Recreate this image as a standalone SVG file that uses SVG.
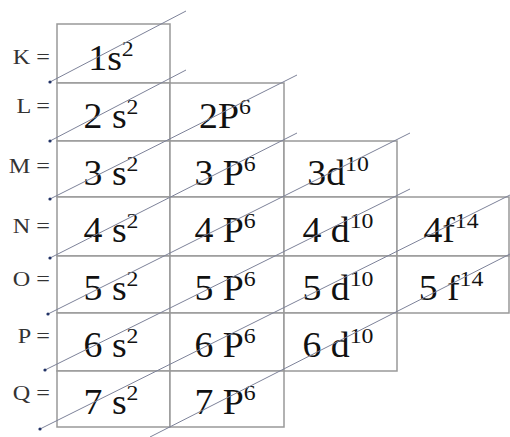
<svg xmlns="http://www.w3.org/2000/svg" width="510" height="437" viewBox="0 0 510 437">
<style>
.cell{fill:#fff;stroke:#999;stroke-width:1.5}
.t{font-family:"Liberation Serif","Times New Roman",serif;font-size:35px;fill:#111;text-anchor:middle}
.sup{font-size:22px}
.lab{font-family:"Liberation Serif","Times New Roman",serif;font-size:22px;fill:#333;text-anchor:end}
.diag{stroke:#7d8299;stroke-width:1;fill:none}
.dot{fill:#223366}
</style>
<rect width="510" height="437" fill="#fff"/>
<g id="labels">
<g id="label-K" transform="translate(50,64) scale(1.1,1)"><text class="lab">K =</text></g>
<g id="label-L" transform="translate(50,113) scale(1.1,1)"><text class="lab">L =</text></g>
<g id="label-M" transform="translate(50,173) scale(1.1,1)"><text class="lab">M =</text></g>
<g id="label-N" transform="translate(50,233) scale(1.1,1)"><text class="lab">N =</text></g>
<g id="label-O" transform="translate(50,286) scale(1.1,1)"><text class="lab">O =</text></g>
<g id="label-P" transform="translate(50,343) scale(1.1,1)"><text class="lab">P =</text></g>
<g id="label-Q" transform="translate(50,400) scale(1.1,1)"><text class="lab">Q =</text></g>
</g>
<g id="cells">
<g id="c1s"><rect class="cell" x="57" y="24" width="113" height="59"/><g transform="translate(111,70) scale(1.08,1)"><text class="t">1s<tspan class="sup" dy="-14">2</tspan></text></g></g>

<g id="c2s"><rect class="cell" x="57" y="83" width="113" height="58"/><g transform="translate(111,128) scale(1.08,1)"><text class="t">2 s<tspan class="sup" dy="-14">2</tspan></text></g></g>
<g id="c2p"><rect class="cell" x="170" y="83" width="114" height="58"/><g transform="translate(225,128) scale(1.08,1)"><text class="t">2P<tspan class="sup" dy="-14">6</tspan></text></g></g>

<g id="c3s"><rect class="cell" x="57" y="141" width="113" height="56"/><g transform="translate(111,185) scale(1.08,1)"><text class="t">3 s<tspan class="sup" dy="-14">2</tspan></text></g></g>
<g id="c3p"><rect class="cell" x="170" y="141" width="114" height="56"/><g transform="translate(225,185) scale(1.08,1)"><text class="t">3 P<tspan class="sup" dy="-14">6</tspan></text></g></g>
<g id="c3d"><rect class="cell" x="284" y="141" width="113" height="56"/><g transform="translate(338,185) scale(1.08,1)"><text class="t">3d<tspan class="sup" dy="-14">10</tspan></text></g></g>

<g id="c4s"><rect class="cell" x="57" y="197" width="113" height="59"/><g transform="translate(111,242) scale(1.08,1)"><text class="t">4 s<tspan class="sup" dy="-14">2</tspan></text></g></g>
<g id="c4p"><rect class="cell" x="170" y="197" width="114" height="59"/><g transform="translate(225,242) scale(1.08,1)"><text class="t">4 P<tspan class="sup" dy="-14">6</tspan></text></g></g>
<g id="c4d"><rect class="cell" x="284" y="197" width="113" height="59"/><g transform="translate(338,242) scale(1.08,1)"><text class="t">4 d<tspan class="sup" dy="-14">10</tspan></text></g></g>
<g id="c4f"><rect class="cell" x="397" y="197" width="112" height="59"/><g transform="translate(451,242) scale(1.08,1)"><text class="t">4f<tspan class="sup" dy="-14">14</tspan></text></g></g>

<g id="c5s"><rect class="cell" x="57" y="256" width="113" height="57"/><g transform="translate(111,300) scale(1.08,1)"><text class="t">5 s<tspan class="sup" dy="-14">2</tspan></text></g></g>
<g id="c5p"><rect class="cell" x="170" y="256" width="114" height="57"/><g transform="translate(225,300) scale(1.08,1)"><text class="t">5 P<tspan class="sup" dy="-14">6</tspan></text></g></g>
<g id="c5d"><rect class="cell" x="284" y="256" width="113" height="57"/><g transform="translate(338,300) scale(1.08,1)"><text class="t">5 d<tspan class="sup" dy="-14">10</tspan></text></g></g>
<g id="c5f"><rect class="cell" x="397" y="256" width="112" height="57"/><g transform="translate(451,300) scale(1.08,1)"><text class="t">5 f<tspan class="sup" dy="-14">14</tspan></text></g></g>

<g id="c6s"><rect class="cell" x="57" y="313" width="113" height="58"/><g transform="translate(111,357) scale(1.08,1)"><text class="t">6 s<tspan class="sup" dy="-14">2</tspan></text></g></g>
<g id="c6p"><rect class="cell" x="170" y="313" width="114" height="58"/><g transform="translate(225,357) scale(1.08,1)"><text class="t">6 P<tspan class="sup" dy="-14">6</tspan></text></g></g>
<g id="c6d"><rect class="cell" x="284" y="313" width="113" height="58"/><g transform="translate(338,357) scale(1.08,1)"><text class="t">6 d<tspan class="sup" dy="-14">10</tspan></text></g></g>

<g id="c7s"><rect class="cell" x="57" y="371" width="113" height="56"/><g transform="translate(111,414) scale(1.08,1)"><text class="t">7 s<tspan class="sup" dy="-14">2</tspan></text></g></g>
<g id="c7p"><rect class="cell" x="170" y="371" width="114" height="56"/><g transform="translate(225,414) scale(1.08,1)"><text class="t">7 P<tspan class="sup" dy="-14">6</tspan></text></g></g>
</g>
<g id="connectors">
<line class="diag" x1="50" y1="82" x2="186" y2="11"/>
<line class="diag" x1="50" y1="141" x2="186" y2="70"/>
<line class="diag" x1="50" y1="199" x2="297" y2="75"/>
<line class="diag" x1="50" y1="258" x2="297" y2="133"/>
<line class="diag" x1="48" y1="314" x2="410" y2="133"/>
<line class="diag" x1="45" y1="370" x2="410" y2="189"/>
<line class="diag" x1="40" y1="429" x2="510" y2="195"/>
<line class="diag" x1="150" y1="437" x2="510" y2="254"/>
<circle class="dot" cx="50" cy="82" r="1.6"/>
<circle class="dot" cx="50" cy="141" r="1.6"/>
<circle class="dot" cx="50" cy="199" r="1.6"/>
<circle class="dot" cx="50" cy="258" r="1.6"/>
<circle class="dot" cx="48" cy="314" r="1.6"/>
<circle class="dot" cx="45" cy="370" r="1.6"/>
<circle class="dot" cx="40" cy="429" r="1.6"/>
</g>
</svg>
